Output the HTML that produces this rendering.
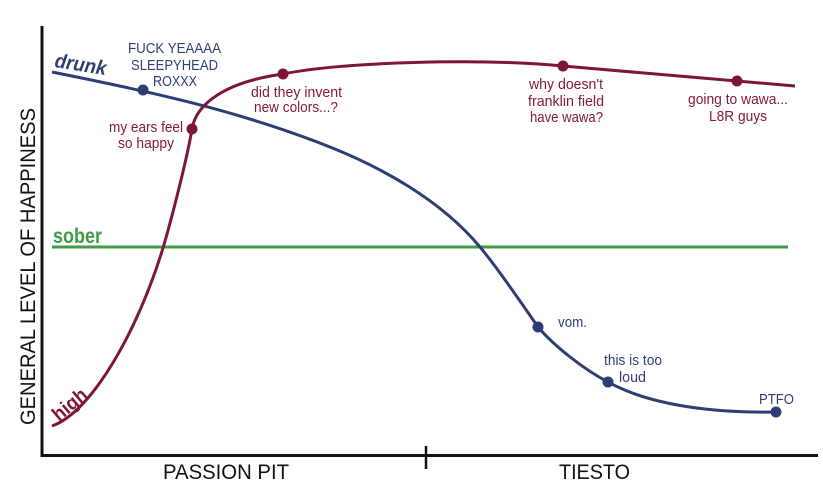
<!DOCTYPE html>
<html>
<head>
<meta charset="utf-8">
<style>
  html, body { margin:0; padding:0; background:#ffffff; }
  svg { display:block; }
  text { font-family: "Liberation Sans", Arial, sans-serif; }
</style>
</head>
<body>
<svg width="823" height="485" viewBox="0 0 823 485" xmlns="http://www.w3.org/2000/svg">
  <rect width="823" height="485" fill="#ffffff"/>

  <!-- axes -->
  <line x1="42" y1="26" x2="42" y2="457" stroke="#111" stroke-width="3"/>
  <line x1="40.5" y1="455.5" x2="818" y2="455.5" stroke="#111" stroke-width="3"/>
  <line x1="426" y1="446" x2="426" y2="469" stroke="#111" stroke-width="2.5"/>

  <!-- axis labels -->
  <text x="35" y="425" transform="rotate(-90 35 425)" font-size="21" fill="#111" textLength="317" lengthAdjust="spacingAndGlyphs">GENERAL LEVEL OF HAPPINESS</text>
  <text x="163" y="479" font-size="21" fill="#111" textLength="126" lengthAdjust="spacingAndGlyphs">PASSION PIT</text>
  <text x="559" y="479" font-size="21" fill="#111" textLength="71" lengthAdjust="spacingAndGlyphs">TIESTO</text>

  <!-- sober -->
  <line x1="52" y1="247" x2="788" y2="247" stroke="#3f9b47" stroke-width="3"/>
  <text x="53" y="243" font-size="21" font-weight="bold" fill="#3f9b47" textLength="49" lengthAdjust="spacingAndGlyphs">sober</text>

  <!-- drunk -->
  <path d="M52,72 C145,90.6 237,110 330,147 C380,167 440,199 480,247 C500,271 522,304 538,327 C555,347 585,370 608,382 C653,407 720,413 776,412"
        fill="none" stroke="#2d3e74" stroke-width="3"/>
  <text x="54" y="67" transform="rotate(9 54 67)" font-size="20" font-weight="bold" font-style="italic" fill="#2d3e74" textLength="52" lengthAdjust="spacingAndGlyphs">drunk</text>
  <circle cx="143" cy="90" r="5.5" fill="#2d3e74"/>
  <circle cx="538" cy="327" r="5.5" fill="#2d3e74"/>
  <circle cx="608" cy="382" r="5.5" fill="#2d3e74"/>
  <circle cx="776" cy="412" r="5.5" fill="#2d3e74"/>

  <!-- high -->
  <path d="M52,426 C92,412 138,330 163,248 C171,221 187,159 192,129 C196,104 225,82 283,74 C340,62 480,58 563,66 C640,73 720,79 795,86"
        fill="none" stroke="#7e1636" stroke-width="3"/>
  <text x="59" y="422" transform="rotate(-40 59 422)" font-size="20" font-weight="bold" fill="#7e1636" textLength="39" lengthAdjust="spacingAndGlyphs">high</text>
  <circle cx="192" cy="129" r="5.5" fill="#7e1636"/>
  <circle cx="283" cy="74" r="5.5" fill="#7e1636"/>
  <circle cx="563" cy="66" r="5.5" fill="#7e1636"/>
  <circle cx="737" cy="81" r="5.5" fill="#7e1636"/>

  <!-- blue annotations -->
  <g font-size="15" fill="#2f3f73">
    <text x="128" y="53" textLength="93" lengthAdjust="spacingAndGlyphs">FUCK YEAAAA</text>
    <text x="131" y="70" textLength="87" lengthAdjust="spacingAndGlyphs">SLEEPYHEAD</text>
    <text x="153" y="86" textLength="44" lengthAdjust="spacingAndGlyphs">ROXXX</text>
    <text x="558" y="327" textLength="29" lengthAdjust="spacingAndGlyphs">vom.</text>
    <text x="604" y="365" textLength="58" lengthAdjust="spacingAndGlyphs">this is too</text>
    <text x="619" y="382" textLength="27" lengthAdjust="spacingAndGlyphs">loud</text>
    <text x="759" y="404" textLength="35" lengthAdjust="spacingAndGlyphs">PTFO</text>
  </g>

  <!-- red annotations -->
  <g font-size="15" fill="#851a3a">
    <text x="251" y="97" textLength="91" lengthAdjust="spacingAndGlyphs">did they invent</text>
    <text x="254" y="112" textLength="84" lengthAdjust="spacingAndGlyphs">new colors...?</text>
    <text x="109" y="132" textLength="74" lengthAdjust="spacingAndGlyphs">my ears feel</text>
    <text x="118" y="148" textLength="56" lengthAdjust="spacingAndGlyphs">so happy</text>
    <text x="529" y="89" textLength="74" lengthAdjust="spacingAndGlyphs">why doesn't</text>
    <text x="528" y="106" textLength="76" lengthAdjust="spacingAndGlyphs">franklin field</text>
    <text x="530" y="122" textLength="73" lengthAdjust="spacingAndGlyphs">have wawa?</text>
    <text x="688" y="104" textLength="100" lengthAdjust="spacingAndGlyphs">going to wawa...</text>
    <text x="709" y="121" textLength="58" lengthAdjust="spacingAndGlyphs">L8R guys</text>
  </g>
</svg>
</body>
</html>
